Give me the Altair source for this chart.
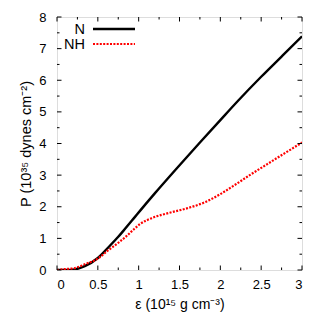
import altair as alt
import pandas as pd

# Data
n_eps = [0.0, 0.1, 0.22, 0.34, 0.5, 0.63, 0.75, 0.81, 0.955, 1.016, 1.2, 1.465, 1.75, 2.0, 2.22, 2.5, 2.75, 3.0]
n_p = [0.0, 0.0, 0.02, 0.12, 0.38, 0.72, 1.05, 1.23, 1.68, 1.87, 2.43, 3.21, 4.03, 4.74, 5.36, 6.11, 6.75, 7.39]
nh_eps = [0.0, 0.1, 0.22, 0.34, 0.5, 0.63, 0.75, 0.85, 0.955, 1.016, 1.18, 1.38, 1.59, 1.79, 2.0, 2.16, 2.36, 2.57, 2.78, 3.0]
nh_p = [0.0, 0.03, 0.06, 0.18, 0.36, 0.63, 0.86, 1.07, 1.32, 1.45, 1.66, 1.81, 1.95, 2.12, 2.40, 2.66, 3.0, 3.34, 3.68, 4.03]

x_major = [0, 0.5, 1, 1.5, 2, 2.5, 3]
x_minor = [0.25, 0.75, 1.25, 1.75, 2.25, 2.75]
y_major = [0, 1, 2, 3, 4, 5, 6, 7, 8]
y_minor = [0.5, 1.5, 2.5, 3.5, 4.5, 5.5, 6.5, 7.5]

legend_names = ["N", "NH"]

W, H = 245, 253
FONT = "Liberation Sans"

xs = alt.Scale(domain=[0, 3], nice=False, zero=False)
ys = alt.Scale(domain=[0, 8], nice=False, zero=False)

df_n = pd.DataFrame({"eps": n_eps, "p": n_p})
df_nh = pd.DataFrame({"eps": nh_eps, "p": nh_p})

x_axis = alt.Axis(values=x_major, format="~g", ticks=False, grid=False, domain=False,
                  labelFont=FONT, labelFontSize=13, labelColor="black", labelPadding=8,
                  labelOverlap=False,
                  title="ε (10¹⁵ g cm⁻³)", titleFont=FONT, titleFontSize=14,
                  titleFontWeight="normal", titleColor="black", titlePadding=6)
y_axis = alt.Axis(values=y_major, format="d", ticks=False, grid=False, domain=False,
                  labelFont=FONT, labelFontSize=13, labelColor="black", labelPadding=11,
                  labelOverlap=False,
                  title="P (10³⁵ dynes cm⁻²)", titleFont=FONT, titleFontSize=14.5,
                  titleFontWeight="normal", titleColor="black", titlePadding=5)

line_n = alt.Chart(df_n).mark_line(color="black", strokeWidth=2.4, interpolate="monotone", clip=True).encode(
    x=alt.X("eps:Q", scale=xs, axis=x_axis),
    y=alt.Y("p:Q", scale=ys, axis=y_axis),
)
line_nh = alt.Chart(df_nh).mark_line(color="#ff0000", strokeWidth=2.2, strokeDash=[2, 1.4],
                                     interpolate="monotone", clip=True).encode(
    x=alt.X("eps:Q", scale=xs, axis=x_axis),
    y=alt.Y("p:Q", scale=ys, axis=y_axis),
)

def xticks(vals, length):
    d = pd.DataFrame({"eps": vals})
    bottom = alt.Chart(d).mark_rule(color="black", strokeWidth=1).encode(
        x=alt.X("eps:Q", scale=xs, axis=x_axis), y=alt.value(H), y2=alt.value(H - length))
    top = alt.Chart(d).mark_rule(color="black", strokeWidth=1).encode(
        x=alt.X("eps:Q", scale=xs, axis=x_axis), y=alt.value(0), y2=alt.value(length))
    return [bottom, top]

def yticks(vals, length):
    d = pd.DataFrame({"p": vals})
    left = alt.Chart(d).mark_rule(color="black", strokeWidth=1).encode(
        y=alt.Y("p:Q", scale=ys, axis=y_axis), x=alt.value(0), x2=alt.value(length))
    right = alt.Chart(d).mark_rule(color="black", strokeWidth=1).encode(
        y=alt.Y("p:Q", scale=ys, axis=y_axis), x=alt.value(W), x2=alt.value(W - length))
    return [left, right]

ticks = xticks(x_major, 4.5) + xticks(x_minor, 2.5) + yticks(y_major, 4.5) + yticks(y_minor, 2.5)

leg_text_n = alt.Chart(pd.DataFrame({"name": [legend_names[0]]})).mark_text(
    align="right", baseline="middle", font=FONT, fontSize=14.5, color="black").encode(
    text="name:N", x=alt.value(28), y=alt.value(13))
leg_text_nh = alt.Chart(pd.DataFrame({"name": [legend_names[1]]})).mark_text(
    align="right", baseline="middle", font=FONT, fontSize=14.5, color="black").encode(
    text="name:N", x=alt.value(28), y=alt.value(28))
leg_line_n = alt.Chart(pd.DataFrame({"name": [legend_names[0]]})).mark_rule(
    color="black", strokeWidth=2.4).encode(x=alt.value(36), x2=alt.value(78), y=alt.value(12))
leg_line_nh = alt.Chart(pd.DataFrame({"name": [legend_names[1]]})).mark_rule(
    color="#ff0000", strokeWidth=2.2, strokeDash=[2, 1.4]).encode(x=alt.value(36), x2=alt.value(78), y=alt.value(27))

chart = alt.layer(line_n, line_nh, *ticks, leg_text_n, leg_text_nh, leg_line_n, leg_line_nh).properties(
    width=W, height=H,
    autosize=alt.AutoSizeParams(type="none"),
    padding={"left": 49, "top": 9, "right": 20, "bottom": 50},
).configure_view(stroke="black", strokeWidth=1.2).configure(background="white")

chart.save("out.html", embed_options={"renderer": "svg", "actions": False})
